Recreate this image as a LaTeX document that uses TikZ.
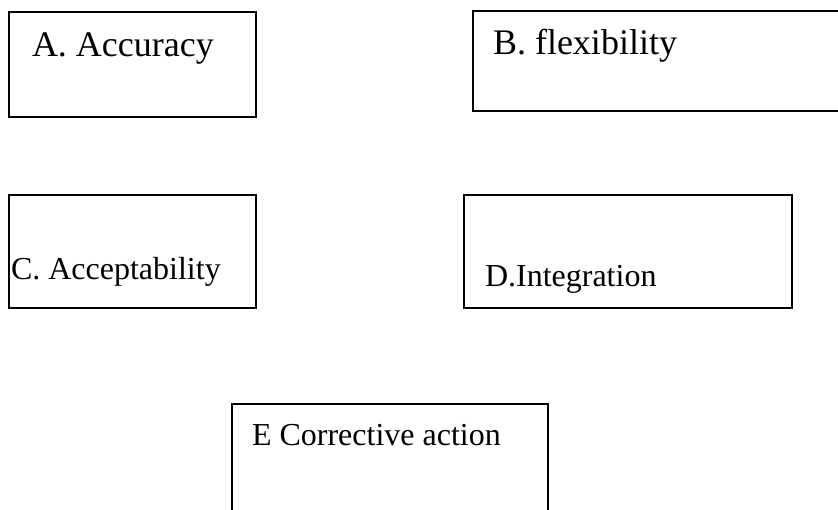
\documentclass[tikz,border=0pt]{standalone}
\usepackage{fontspec}
\setmainfont{Liberation Serif}
\begin{document}
\begin{tikzpicture}[x=1pt,y=-1pt,
  box/.style={draw=black,line width=1.6pt,rectangle,anchor=north west,
    inner sep=0pt,outer sep=0pt},
  lbl/.style={anchor=base west,inner sep=0pt,outer sep=0pt},
  big/.style={font=\fontsize{36}{40}\selectfont},
  mid/.style={font=\fontsize{32}{36}\selectfont}]
  \useasboundingbox (0,0) rectangle (838,510);
  \clip (0,0) rectangle (838,510);
  % boxes
  \node[box,minimum width=247pt,minimum height=105pt] (boxA) at (9,12) {};
  \node[box,minimum width=372pt,minimum height=100pt] (boxB) at (473,11) {};
  \node[box,minimum width=247pt,minimum height=113pt] (boxC) at (9,195) {};
  \node[box,minimum width=328pt,minimum height=113pt] (boxD) at (464,195) {};
  \node[box,minimum width=316pt,minimum height=121pt] (boxE) at (232,404) {};
  % labels
  \node[lbl,big] (txtA) at (32,57) {A. Accuracy};
  \node[lbl,big] (txtB) at (493,55) {B. flexibility};
  \node[lbl,mid] (txtC) at (11,280) {C. Acceptability};
  \node[lbl,mid] (txtD) at (485,287) {D.Integration};
  \node[lbl,mid] (txtE) at (252,446) {E Corrective action};
\end{tikzpicture}
\end{document}
